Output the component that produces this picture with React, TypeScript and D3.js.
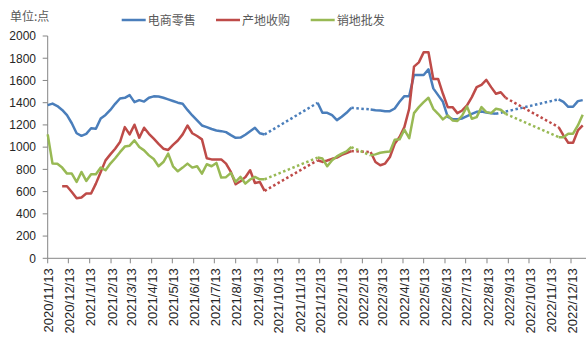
import React from 'react';
import * as d3 from 'd3';

// month ticks of the date axis (Excel uses the first date as the base)
const tickLabels = [
  '2020/11/13', '2020/12/13', '2021/1/13', '2021/2/13', '2021/3/13', '2021/4/13',
  '2021/5/13', '2021/6/13', '2021/7/13', '2021/8/13', '2021/9/13', '2021/10/13',
  '2021/11/13', '2021/12/13', '2022/1/13', '2022/2/13', '2022/3/13', '2022/4/13',
  '2022/5/13', '2022/6/13', '2022/7/13', '2022/8/13', '2022/9/13', '2022/10/13',
  '2022/11/13', '2022/12/13'
];
const yTicks = [0, 200, 400, 600, 800, 1000, 1200, 1400, 1600, 1800, 2000];
const seriesNames = ['电商零售', '产地收购', '销地批发'];
const seriesColors = ['#4A7EBB', '#BE4B48', '#98B954'];

// weekly index values, null = no data (bridged with dotted line)
const retail = [
  1378, 1392, 1370, 1335, 1288, 1215, 1125, 1102, 1120, 1170, 1165, 1258, 1290, 1335, 1390, 1438,
  1444, 1468, 1405, 1423, 1410, 1445, 1457, 1455, 1444, 1430, 1415, 1400, 1390, 1335, 1285, 1240,
  1195, 1180, 1163, 1150, 1144, 1135, 1108, 1084, 1086, 1112, 1143, 1174, 1125, 1114,
  null, null, null, null, null, null, null, null, null, null,
  1399, 1309, 1309, 1288, 1243, 1273, 1309, 1354,
  null, null, null,
  1339, 1333, 1330, 1324, 1324, 1348, 1408, 1459, 1459, 1649, 1649, 1649, 1700, 1529, 1468, 1408,
  1273, 1252, 1252, 1258, 1280, 1300, 1318, 1321, 1312, 1305, 1300,
  null, null, null, null, null, null, null, null, null, null, null, null,
  1430, 1408, 1363, 1363, 1414, 1423
];
const origin = [
  null, null, null,
  648, 648, 597, 540, 547, 583, 583, 672, 777, 881, 935, 986, 1046, 1180, 1115, 1202, 1085, 1175,
  1120, 1076, 1030, 986, 975, 1020, 1060, 1115, 1195, 1125, 1100, 1070, 900, 890, 890, 890, 852,
  777, 666, 693, 730, 792, 678, 687, 606,
  null, null, null, null, null, null, null, null, null, null,
  882, 867, 880, 895, 906, 930, 947, 965,
  null, null, null,
  956, 866, 837, 852, 911, 1031, 1091, 1180, 1345, 1725, 1763, 1853, 1853, 1614, 1614, 1480,
  1360, 1360, 1306, 1330, 1375, 1450, 1540, 1561, 1605, 1540, 1480, 1494, 1444,
  null, null, null, null, null, null, null, null, null, null,
  1180, 1106, 1040, 1040, 1150, 1195
];
const wholesale = [
  1115, 852, 850, 816, 762, 762, 687, 777, 696, 756, 756, 816, 792, 852, 900, 955, 1005, 1013,
  1061, 1001, 971, 926, 893, 828, 866, 942, 828, 783, 816, 852, 816, 828, 762, 846, 828, 858,
  727, 730, 769, 687, 732, 672, 709, 732, 711, 711,
  null, null, null, null, null, null, null, null, null, null,
  906, 897, 828, 882, 917, 942, 962, 1001,
  null, null, null,
  926, 935, 950, 956, 960, 1067, 1070, 1157, 1080, 1306, 1360, 1405, 1444, 1345, 1300, 1250,
  1285, 1240, 1235, 1285, 1366, 1256, 1270, 1360, 1315, 1306, 1345, 1336, 1300,
  null, null, null, null, null, null, null, null, null, null,
  1090, 1090, 1121, 1121, 1195, 1291
];

const W = 587;
const H = 351;
const parse = d3.timeParse('%Y/%m/%d');
const firstDate = parse(tickLabels[0]) as Date;
const weeks = retail.map((_, i) => d3.timeDay.offset(firstDate, i * 7));

const numFont = '"Liberation Sans", Arial, sans-serif';
const cjkFont = '"Noto Sans CJK SC", "Liberation Sans", sans-serif';

export default function App() {
  const x = d3.scaleTime()
    .domain([firstDate, parse(tickLabels[tickLabels.length - 1]) as Date])
    .range([47.7, 571]);
  const y = d3.scaleLinear().domain([0, 2000]).range([258.3, 36]);
  const left = 47.7;
  const right = 586;
  const bottom = y(0);

  const line = d3.line<number | null>()
    .defined(v => v != null)
    .x((_, i) => x(weeks[i]))
    .y(v => y(v as number));

  const allSeries = [retail, origin, wholesale];

  // pairs of points on each side of a gap
  const bridges = allSeries.map(s => {
    const out: [number, number][] = [];
    let prev = -1;
    s.forEach((v, i) => {
      if (v == null) return;
      if (prev >= 0 && i - prev > 1) out.push([prev, i]);
      prev = i;
    });
    return out;
  });

  return (
    <svg width={W} height={H} style={{ position: 'absolute', left: 0, top: 0, background: '#fff' }}>
      <text x={10} y={21} fontSize={12} fill="#595959" fontFamily={cjkFont}>单位:点</text>

      {/* Legend */}
      {seriesNames.map((name, i) => {
        const lx = [121.7, 216, 310.7][i];
        return (
          <g key={name}>
            <line x1={lx} x2={lx + 24} y1={20} y2={20} stroke={seriesColors[i]} strokeWidth={2.5} />
            <text x={lx + 26} y={24.5} fontSize={12} fill="#595959" fontFamily={cjkFont}>{name}</text>
          </g>
        );
      })}

      {/* Axes */}
      <line x1={left} x2={left} y1={y(2000)} y2={bottom} stroke="#868686" strokeWidth={1} />
      {yTicks.map(t => (
        <g key={t}>
          <line x1={left - 5} x2={left} y1={y(t)} y2={y(t)} stroke="#868686" />
          <text x={36} y={y(t)} dy="0.36em" textAnchor="end" fontSize={12} fill="#262626" fontFamily={numFont}>{t}</text>
        </g>
      ))}
      <line x1={left} x2={right} y1={bottom} y2={bottom} stroke="#868686" strokeWidth={1} />
      {tickLabels.map(lbl => {
        const tx = x(parse(lbl) as Date);
        return (
          <g key={lbl}>
            <line x1={tx} x2={tx} y1={bottom} y2={bottom + 5} stroke="#868686" />
            <text
              transform={`translate(${tx + 1},${bottom + 10}) rotate(-90)`}
              dy="0.36em"
              textAnchor="end"
              fontSize={13}
              fill="#262626"
              fontFamily={numFont}
            >{lbl}</text>
          </g>
        );
      })}

      {/* Series */}
      {allSeries.map((s, k) => (
        <g key={k}>
          {bridges[k].map(([a, b]) => (
            <line
              key={a}
              x1={x(weeks[a])} y1={y(s[a] as number)}
              x2={x(weeks[b])} y2={y(s[b] as number)}
              stroke={seriesColors[k]} strokeWidth={2.5} strokeDasharray="2.5 2.5"
            />
          ))}
          <path d={line(s) || ''} fill="none" stroke={seriesColors[k]} strokeWidth={2.5} strokeLinejoin="round" />
        </g>
      ))}
    </svg>
  );
}
